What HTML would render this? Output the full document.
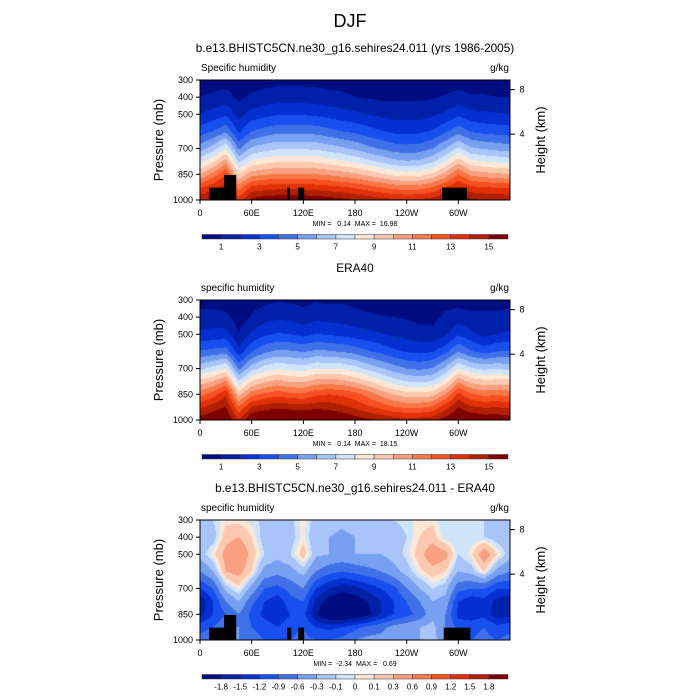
<!DOCTYPE html>
<html><head><meta charset="utf-8">
<style>
body{margin:0;background:#fff;}
#wrap{position:relative;width:700px;height:700px;overflow:hidden;font-family:"Liberation Sans",sans-serif;}
canvas{position:absolute;}
svg{position:absolute;left:0;top:0;}
svg text{white-space:pre;}
</style></head><body>
<div id="wrap">
<canvas id="c0" width="310" height="120" style="left:200px;top:80px"></canvas>
<canvas id="c1" width="310" height="120" style="left:200px;top:300px"></canvas>
<canvas id="c2" width="310" height="120" style="left:200px;top:520px"></canvas>
<svg id="ov" width="700" height="700"></svg>
</div>
<script>
const lons=[0,15,30,45,60,75,90,105,120,135,150,165,180,195,210,225,240,255,270,285,300,315,330,345,360];
const levels=[300,400,500,600,700,775,850,925,1000];
const modelQ=[
[.5,.5,.6,.4,.5,.6,.7,.7,.7,.7,.6,.6,.5,.5,.4,.4,.4,.4,.4,.5,.6,.5,.5,.5,.5],
[1.0,1.2,1.4,.8,1.2,1.4,1.5,1.5,1.5,1.4,1.3,1.2,1.0,.9,.8,.8,.8,.8,.9,1.1,1.3,1.1,1.1,1.0,1.0],
[2.0,2.4,2.8,1.6,2.4,2.7,2.9,2.9,2.9,2.8,2.6,2.4,2.2,2.0,1.8,1.6,1.6,1.6,1.8,2.2,2.8,2.3,2.2,2.1,2.0],
[3.5,4.0,4.8,2.8,4.0,4.4,4.7,4.7,4.7,4.6,4.3,4.0,3.8,3.4,3.1,2.8,2.7,2.8,3.1,3.8,4.6,3.9,3.7,3.6,3.5],
[5.5,6.5,8.0,4.8,6.2,6.6,6.9,6.9,6.9,6.8,6.5,6.2,5.8,5.3,4.9,4.5,4.4,4.5,5.0,6.0,7.2,6.2,5.9,5.7,5.5],
[7.6,8.8,10.5,6.8,8.2,8.6,8.9,8.9,8.9,8.8,8.5,8.2,7.8,7.3,6.8,6.3,6.1,6.2,6.8,8.0,9.6,8.3,8.0,7.8,7.6],
[10.0,11.3,13.0,9.0,10.6,10.9,11.1,11.1,11.1,11.0,10.8,10.5,10.2,9.7,9.2,8.7,8.5,8.6,9.2,10.4,12.0,10.7,10.4,10.2,10.0],
[12.8,13.6,14.5,11.5,13.2,13.5,13.6,13.6,13.6,13.5,13.3,13.1,12.8,12.4,12.0,11.6,11.4,11.5,12.0,13.0,14.0,13.2,13.0,12.9,12.8],
[14.8,15.2,15.5,13.5,15.3,15.6,15.8,15.8,15.8,15.7,15.5,15.3,15.0,14.7,14.4,14.2,14.1,14.2,14.5,15.0,15.5,15.2,15.0,14.9,14.8]];
const eraQ=[
[.7,.6,.55,.35,.55,.75,.9,.85,.65,.9,.8,.85,.7,.65,.55,.5,.45,.35,.35,.6,.65,.6,.6,.65,.7],
[1.3,1.4,1.2,.5,1.1,1.6,1.8,1.7,1.45,1.7,1.6,1.55,1.3,1.15,1.05,1.0,.9,.7,.7,1.2,1.4,1.2,1.2,1.2,1.3],
[2.2,2.35,2.4,1.0,2.2,2.8,3.1,3.0,2.7,3.05,2.9,2.75,2.5,2.3,2.1,1.8,1.65,1.4,1.3,1.8,2.9,2.25,1.7,2.0,2.2],
[4.1,4.3,4.5,2.4,3.9,4.8,5.2,5.1,4.9,5.2,5.1,4.9,4.6,4.1,3.7,3.2,2.9,2.75,2.9,3.7,4.9,4.1,3.6,4.0,4.1],
[6.7,7.4,8.2,4.75,6.6,7.5,7.9,7.7,7.5,8.0,8.0,7.9,7.4,6.7,6.1,5.5,5.0,4.8,5.1,6.2,8.0,7.1,6.8,6.9,6.7],
[9.4,10.0,11.1,7.1,9.0,9.8,10.3,9.9,9.8,10.4,10.5,10.3,9.8,9.1,8.3,7.5,7.0,6.8,7.1,8.4,10.8,9.7,9.3,9.4,9.4],
[11.6,12.5,13.9,9.6,11.6,12.2,12.6,12.3,12.2,12.8,13.0,12.8,12.4,11.6,10.7,9.9,9.5,9.4,9.6,11.0,13.3,12.1,11.7,11.9,11.6],
[13.8,14.5,15.1,12.1,14.1,14.5,14.8,14.6,14.5,14.7,14.6,14.3,13.8,13.2,12.7,12.1,11.8,11.8,12.2,13.6,15.0,14.2,13.9,14.0,13.8],
[15.6,15.9,16.1,14.1,16.1,16.5,16.8,16.7,16.6,16.6,16.4,16.1,15.6,15.2,14.9,14.6,14.4,14.5,14.7,15.5,16.3,16.1,15.8,15.8,15.6]];
const diffQ=[
[-0.2,-0.1,0.05,0.05,-0.05,-0.15,-0.2,-0.15,0.05,-0.2,-0.2,-0.25,-0.2,-0.15,-0.15,-0.1,-0.05,0.05,0.05,-0.1,-0.05,-0.1,-0.1,-0.15,-0.2],
[-0.3,-0.2,0.2,0.3,0.1,-0.2,-0.3,-0.2,0.05,-0.3,-0.3,-0.35,-0.3,-0.25,-0.25,-0.2,-0.1,0.1,0.2,-0.1,-0.1,-0.1,-0.1,-0.2,-0.3],
[-0.2,0.05,0.4,0.6,0.2,-0.1,-0.2,-0.1,0.2,-0.25,-0.3,-0.35,-0.3,-0.3,-0.3,-0.2,-0.05,0.2,0.5,0.4,-0.1,0.05,0.5,0.1,-0.2],
[-0.6,-0.3,0.3,0.4,0.1,-0.4,-0.5,-0.4,-0.2,-0.6,-0.8,-0.9,-0.8,-0.7,-0.6,-0.4,-0.2,0.05,0.2,0.1,-0.3,-0.2,0.1,-0.4,-0.6],
[-1.2,-0.9,-0.2,0.05,-0.4,-0.9,-1.0,-0.8,-0.6,-1.2,-1.5,-1.7,-1.6,-1.4,-1.2,-1.0,-0.6,-0.3,-0.1,-0.2,-0.8,-0.9,-0.9,-1.2,-1.2],
[-1.8,-1.2,-0.6,-0.3,-0.8,-1.2,-1.4,-1.0,-0.9,-1.6,-2.0,-2.1,-2.0,-1.8,-1.5,-1.2,-0.9,-0.6,-0.3,-0.4,-1.2,-1.4,-1.3,-1.6,-1.8],
[-1.6,-1.2,-0.9,-0.6,-1.0,-1.3,-1.5,-1.2,-1.1,-1.8,-2.2,-2.3,-2.2,-1.9,-1.5,-1.2,-1.0,-0.8,-0.4,-0.6,-1.3,-1.4,-1.3,-1.7,-1.6],
[-1.0,-0.9,-0.6,-0.6,-0.9,-1.0,-1.2,-1.0,-0.9,-1.2,-1.3,-1.2,-1.0,-0.8,-0.7,-0.5,-0.4,-0.3,-0.2,-0.6,-1.0,-1.0,-0.9,-1.1,-1.0],
[-0.8,-0.7,-0.6,-0.6,-0.8,-0.9,-1.0,-0.9,-0.8,-0.9,-0.9,-0.8,-0.6,-0.5,-0.5,-0.4,-0.3,-0.3,-0.2,-0.5,-0.8,-0.9,-0.8,-0.9,-0.8]];
const qLevels=[1,2,3,4,5,6,7,8,9,10,11,12,13,14,15];
const qLabels=["1","3","5","7","9","11","13","15"];
const dLevels=[-1.8,-1.5,-1.2,-0.9,-0.6,-0.3,-0.1,0,0.1,0.3,0.6,0.9,1.2,1.5,1.8];
const dLabels=["-1.8","-1.5","-1.2","-0.9","-0.6","-0.3","-0.1","0","0.1","0.3","0.6","0.9","1.2","1.5","1.8"];
const masks=[[10.5,42,928],[28,42,854],[101,104.5,928],[114,121,928],[281,310,928]];
const masksDiff=[[10.5,42,928],[28,42,854],[101,106,928],[114,121,928],[283,314,928]];
const pTicks=[300,400,500,700,850,1000];
const hTicks=[8,4];
const hTickP=[356,616];
const lonTicks=[0,60,120,180,240,300];
const lonLabels=["0","60E","120E","180","120W","60W"];
const colors=["#000c80","#0020a8","#0530d0","#1850f0","#4070e8","#78a0f0","#a8c4f8","#d0e4fc","#fde8d8","#fcc8b0","#f8a080","#f87848","#f85020","#e03008","#b02000","#800000"];

const PX=200,PW=310,PH=120;
function xs(lon){return PX+lon/360*PW;}
function ys(top,p){return top+(p-300)/700*PH;}
function hexRgb(h){return [parseInt(h.slice(1,3),16),parseInt(h.slice(3,5),16),parseInt(h.slice(5,7),16)];}
const rgb=colors.map(hexRgb);
function sample(field,lon,p){
  let i=0;while(i<lons.length-2&&lon>lons[i+1])i++;
  let j=0;while(j<levels.length-2&&p>levels[j+1])j++;
  const tx=(lon-lons[i])/(lons[i+1]-lons[i]),ty=(p-levels[j])/(levels[j+1]-levels[j]);
  const a=field[j][i],b=field[j][i+1],c=field[j+1][i],d=field[j+1][i+1];
  return (a*(1-tx)+b*tx)*(1-ty)+(c*(1-tx)+d*tx)*ty;
}
function bin(v,lv){let k=0;while(k<lv.length&&v>=lv[k])k++;return k;}
function drawField(id,field,lv){
  const cv=document.getElementById(id),ctx=cv.getContext('2d');
  const img=ctx.createImageData(PW,PH);
  for(let y=0;y<PH;y++)for(let x=0;x<PW;x++){
    const lon=(x+0.5)/PW*360,p=300+(y+0.5)/PH*700;
    const c=rgb[bin(sample(field,lon,p),lv)];
    const o=(y*PW+x)*4;img.data[o]=c[0];img.data[o+1]=c[1];img.data[o+2]=c[2];img.data[o+3]=255;
  }
  ctx.putImageData(img,0,0);
}
drawField('c0',modelQ,qLevels);
drawField('c1',eraQ,qLevels);
drawField('c2',diffQ,dLevels);

const NS="http://www.w3.org/2000/svg",ov=document.getElementById('ov');
function el(tag,attrs,txt){const e=document.createElementNS(NS,tag);for(const k in attrs)e.setAttribute(k,attrs[k]);if(txt!==undefined)e.textContent=txt;ov.appendChild(e);return e;}
function txt(x,y,s,size,anchor,name,rot){
  const t=el('text',{x:x,y:y,'font-size':size,'text-anchor':anchor||'middle','font-family':'Liberation Sans, sans-serif',fill:'#000'},s);
  if(rot)t.setAttribute('transform','rotate(-90 '+x+' '+y+')');
  
  
  return t;
}
function line(x1,y1,x2,y2,name){const l=el('line',{x1:x1,y1:y1,x2:x2,y2:y2,stroke:'#000','stroke-width':1});
  
  }

txt(350,27,'DJF',18,'middle','figure-title');
function panel(top,title,left,mk,mm,cbTop,lv,labels,labelsEvery){
  txt(355,top-28,title,11.8,'middle','panel-title');
  txt(201,top-9,left,10,'start','variable-label');
  txt(509,top-9,'g/kg',10,'end','units-label');
  (mk||[]).forEach(m=>{
    const r=el('rect',{x:xs(m[0]),y:ys(top,m[2]),width:xs(m[1])-xs(m[0]),height:ys(top,1000)-ys(top,m[2]),fill:'#000'});
    
    
  });
  const fr=el('rect',{x:PX,y:top,width:PW,height:PH,fill:'none',stroke:'#000','stroke-width':1});
  
  
  pTicks.forEach(p=>{const y=ys(top,p);line(PX-4,y,PX,y,'y-tick');txt(PX-7,y+3,String(p),9,'end','y-tick-label');});
  hTicks.forEach((h,i)=>{const y=ys(top,hTickP[i]);line(PX+PW,y,PX+PW+5,y,'height-tick');txt(PX+PW+12,y+3,String(h),9,'middle','height-tick-label');});
  lonTicks.forEach((l,i)=>{const x=xs(l);line(x,top+PH,x,top+PH+4,'x-tick');txt(x,top+PH+16,lonLabels[i],9,'middle','x-tick-label');});
  txt(163,top+PH/2,'Pressure (mb)',13,'middle','y-axis-title',true);
  txt(545,top+PH/2,'Height (km)',13,'middle','y2-axis-title',true);
  txt(355,top+PH+26,mm,7,'middle','min-max-label');
  const cbX=202,cbW=306,bw=cbW/colors.length;
  colors.forEach((c,i)=>{const r=el('rect',{x:cbX+i*bw,y:cbTop,width:bw,height:4.5,fill:c,stroke:'#333','stroke-width':0.5});
    
    });
  labels.forEach((s,i)=>{const k=labelsEvery*i+1;txt(cbX+k*bw,cbTop+15,s,8,'middle','colorbar-label');});
}
panel(80,'b.e13.BHISTC5CN.ne30_g16.sehires24.011 (yrs 1986-2005)','Specific humidity',masks,'MIN =   0.14  MAX =  16.98',234.5,qLevels,qLabels,2);
panel(300,'ERA40','specific humidity',null,'MIN =   0.14  MAX =  18.15',454.5,qLevels,qLabels,2);
panel(520,'b.e13.BHISTC5CN.ne30_g16.sehires24.011 - ERA40','specific humidity',masksDiff,'MIN =  -2.34  MAX =   0.69',674.5,dLevels,dLabels,1);
</script>
</body></html>
